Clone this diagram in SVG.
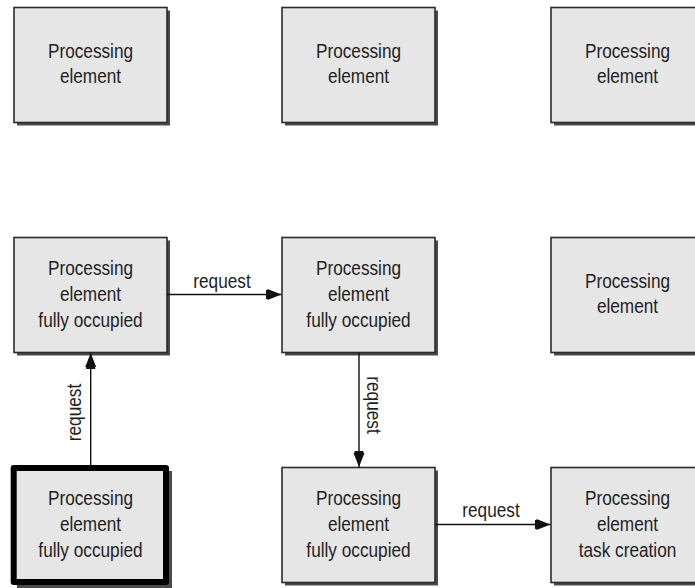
<svg xmlns="http://www.w3.org/2000/svg" width="695" height="588" viewBox="0 0 695 588">
  <style>
    .shadow { fill: #4a4a4a; }
    .box { fill: #e6e6e6; stroke: #2b2b2b; stroke-width: 1.6; }
    .bold { fill: #e6e6e6; stroke: #000; stroke-width: 6; stroke-linejoin: round; }
    .t { font-family: "Liberation Sans", Arial, sans-serif; font-size: 20.5px; fill: #1e1e1e; text-anchor: middle; }
    .link { stroke: #111; stroke-width: 1.4; fill: none; }
  </style>
  <defs>
    <marker id="head" markerUnits="userSpaceOnUse" markerWidth="20" markerHeight="14" refX="16" refY="6" orient="auto">
      <path d="M0,1.5 L2,1.5 L2,0.5 L16,6 L2,11.5 L2,10.5 L0,10.5 Z" fill="#111"/>
    </marker>
  </defs>

  <rect width="695" height="588" fill="#fff"/>

  <!-- row 1 -->
  <g id="pe-r1c1">
    <rect class="shadow" x="17" y="10.5" width="153" height="115"/>
    <rect class="box" x="14" y="7.5" width="153" height="115"/>
    <text class="t" transform="translate(90.5,58) scale(0.84,1)"><tspan x="0">Processing</tspan><tspan x="0" dy="25.5">element</tspan></text>
  </g>
  <g id="pe-r1c2">
    <rect class="shadow" x="285" y="10.5" width="153" height="115"/>
    <rect class="box" x="282" y="7.5" width="153" height="115"/>
    <text class="t" transform="translate(358.5,58) scale(0.84,1)"><tspan x="0">Processing</tspan><tspan x="0" dy="25.5">element</tspan></text>
  </g>
  <g id="pe-r1c3">
    <rect class="shadow" x="554" y="10.5" width="153" height="115"/>
    <rect class="box" x="551" y="7.5" width="153" height="115"/>
    <text class="t" transform="translate(627.5,58) scale(0.84,1)"><tspan x="0">Processing</tspan><tspan x="0" dy="25.5">element</tspan></text>
  </g>

  <!-- row 2 -->
  <g id="pe-r2c1">
    <rect class="shadow" x="17" y="240.5" width="153" height="115"/>
    <rect class="box" x="14" y="237.5" width="153" height="115"/>
    <text class="t" transform="translate(90.5,275) scale(0.84,1)"><tspan x="0">Processing</tspan><tspan x="0" dy="26">element</tspan><tspan x="0" dy="26">fully occupied</tspan></text>
  </g>
  <g id="pe-r2c2">
    <rect class="shadow" x="285" y="240.5" width="153" height="115"/>
    <rect class="box" x="282" y="237.5" width="153" height="115"/>
    <text class="t" transform="translate(358.5,275) scale(0.84,1)"><tspan x="0">Processing</tspan><tspan x="0" dy="26">element</tspan><tspan x="0" dy="26">fully occupied</tspan></text>
  </g>
  <g id="pe-r2c3">
    <rect class="shadow" x="554" y="240.5" width="153" height="115"/>
    <rect class="box" x="551" y="237.5" width="153" height="115"/>
    <text class="t" transform="translate(627.5,288) scale(0.84,1)"><tspan x="0">Processing</tspan><tspan x="0" dy="25.5">element</tspan></text>
  </g>

  <!-- row 3 -->
  <g id="pe-r3c1">
    <rect class="shadow" x="17" y="471" width="155" height="117"/>
    <rect class="bold" x="13.7" y="468" width="152.3" height="114"/>
    <text class="t" transform="translate(90.5,505) scale(0.84,1)"><tspan x="0">Processing</tspan><tspan x="0" dy="26">element</tspan><tspan x="0" dy="26">fully occupied</tspan></text>
  </g>
  <g id="pe-r3c2">
    <rect class="shadow" x="285" y="470.5" width="153" height="115"/>
    <rect class="box" x="282" y="467.5" width="153" height="115"/>
    <text class="t" transform="translate(358.5,505) scale(0.84,1)"><tspan x="0">Processing</tspan><tspan x="0" dy="26">element</tspan><tspan x="0" dy="26">fully occupied</tspan></text>
  </g>
  <g id="pe-r3c3">
    <rect class="shadow" x="554" y="470.5" width="153" height="115"/>
    <rect class="box" x="551" y="467.5" width="153" height="115"/>
    <text class="t" transform="translate(627.5,505) scale(0.84,1)"><tspan x="0">Processing</tspan><tspan x="0" dy="26">element</tspan><tspan x="0" dy="26">task creation</tspan></text>
  </g>

  <!-- request connectors -->
  <g id="connectors">
    <line class="link" x1="90.7" y1="465" x2="90.7" y2="353" marker-end="url(#head)"/>
    <text class="t" transform="translate(80.5,412.5) rotate(-90) scale(0.84,1)">request</text>

    <line class="link" x1="167" y1="294.5" x2="281.5" y2="294.5" marker-end="url(#head)"/>
    <text class="t" transform="translate(222,288) scale(0.84,1)">request</text>

    <line class="link" x1="359" y1="353" x2="359" y2="467" marker-end="url(#head)"/>
    <text class="t" transform="translate(366.5,405) rotate(90) scale(0.84,1)">request</text>

    <line class="link" x1="435" y1="524.5" x2="550.5" y2="524.5" marker-end="url(#head)"/>
    <text class="t" transform="translate(491,517) scale(0.84,1)">request</text>
  </g>
</svg>
